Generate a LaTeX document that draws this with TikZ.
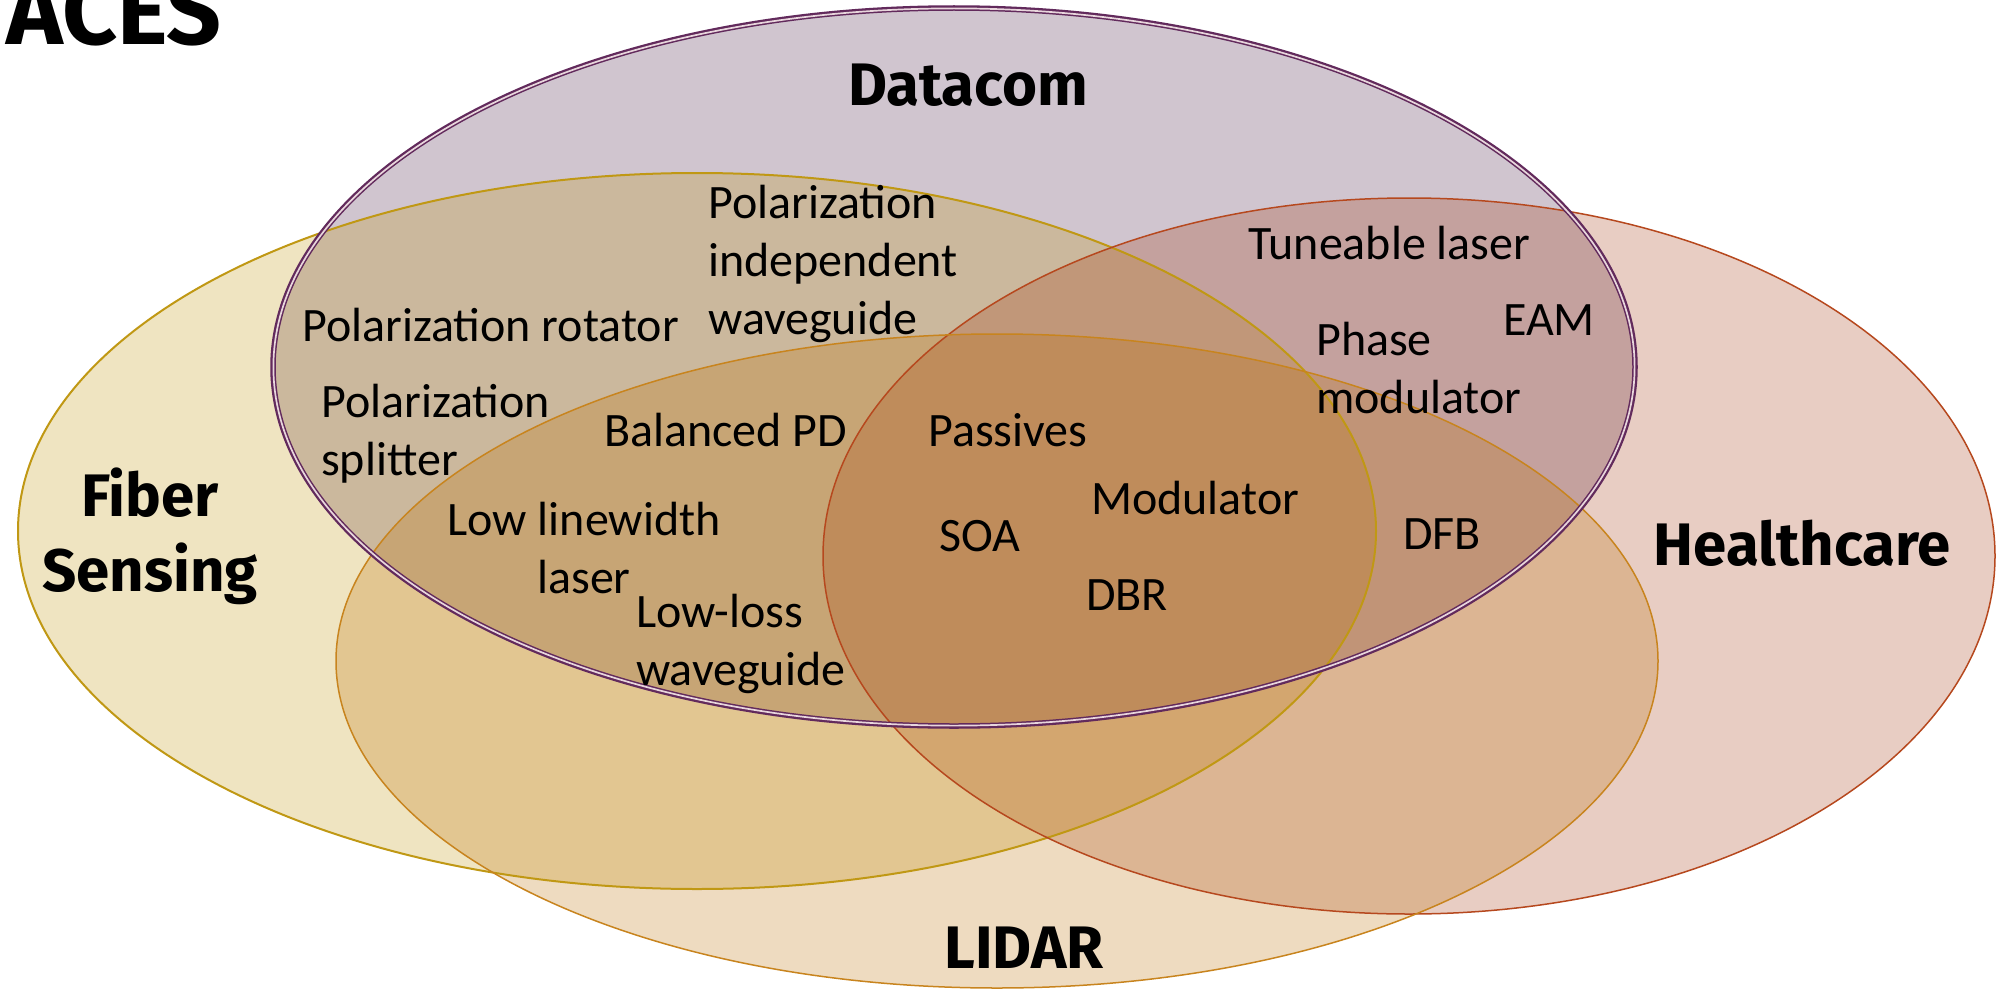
\documentclass[tikz,border=0pt]{standalone}
\usepackage{fontspec}
\setmainfont{Carlito}
\newfontfamily\titlefont{Fira Sans}
\definecolor{dcfill}{RGB}{67,23,63}
\definecolor{dcline}{RGB}{98,42,92}
\definecolor{dcgap}{RGB}{232,214,220}
\definecolor{fsfill}{RGB}{191,147,7}
\definecolor{fsline}{RGB}{192,152,20}
\definecolor{ldfill}{RGB}{187,111,3}
\definecolor{ldline}{RGB}{200,132,30}
\definecolor{hcfill}{RGB}{163,55,15}
\definecolor{hcline}{RGB}{182,72,30}
\begin{document}
\begin{tikzpicture}[x=1pt,y=-1pt,
  setfill/.style={fill opacity=0.25},
  item/.style={font=\fontsize{48}{58}\selectfont, inner sep=0pt, align=left},
  ttl/.style={font=\titlefont\bfseries\fontsize{60}{75}\selectfont, inner sep=0pt, align=center}]
\useasboundingbox (0,0) rectangle (1997,990);
\clip (0,0) rectangle (1997,990);
% set fills (back to front)
\fill[setfill, dcfill] (954,367) ellipse [x radius=681pt, y radius=359pt];
\fill[setfill, fsfill] (697,531) ellipse [x radius=679pt, y radius=358pt];
\fill[setfill, hcfill] (1409,556) ellipse [x radius=586pt, y radius=358pt];
\fill[setfill, ldfill] (997,661) ellipse [x radius=661pt, y radius=327pt];
% set outlines
\draw[fsline, line width=2pt] (697,531) ellipse [x radius=679pt, y radius=358pt];
\draw[hcline, line width=1.5pt] (1409,556) ellipse [x radius=586pt, y radius=358pt];
\draw[ldline, line width=1.5pt] (997,661) ellipse [x radius=661pt, y radius=327pt];
\draw[dcline, line width=5.5pt] (954,367) ellipse [x radius=681pt, y radius=359pt];
\draw[dcgap, line width=1.7pt] (954,367) ellipse [x radius=680.6pt, y radius=358.6pt];
% heading fragment
\node[font=\titlefont\bfseries\fontsize{96}{110}\selectfont, inner sep=0pt, anchor=base east] (aces) at (222,45) {ACES};
% titles
\node[ttl] (datacom) at (968,85) {Datacom};
\node[ttl] (fibersensing) at (150,536) {Fiber\\Sensing};
\node[ttl] (health) at (1802,543) {Healthcare};
\node[ttl] (lidar) at (1024,948) {LIDAR};
% items
\node[item, anchor=west] (polind) at (708,264) {Polarization\\independent\\waveguide};
\node[item, anchor=west] (polrot) at (302,325) {Polarization rotator};
\node[item, anchor=west] (tune) at (1248,243) {Tuneable laser};
\node[item, anchor=west] (eam) at (1503,320) {EAM};
\node[item, anchor=west] (phase) at (1316,368) {Phase\\modulator};
\node[item, anchor=west] (polspl) at (321,434) {Polarization\\splitter};
\node[item, anchor=west] (bpd) at (604,430) {Balanced PD};
\node[item, anchor=west] (pass) at (928,430) {Passives};
\node[item, anchor=west] (mod) at (1091,498) {Modulator};
\node[item, anchor=west] (soa) at (939,536) {SOA};
\node[item, anchor=west] (dfb) at (1403,534) {DFB};
\node[item, align=center] (lowlw) at (584,548) {Low linewidth\\laser};
\node[item, anchor=west] (dbr) at (1086,595) {DBR};
\node[item, anchor=west] (lowloss) at (636,644) {Low-loss\\waveguide};
\end{tikzpicture}
\end{document}
